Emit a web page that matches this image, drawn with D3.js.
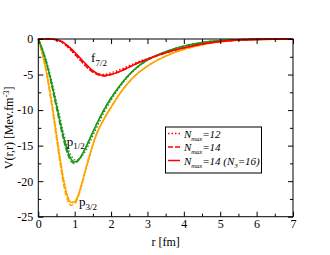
<html>
<head>
  <script src="https://d3js.org/d3.v7.min.js"></script>
  <style>
    body { margin: 0; background: #fff; }
    text { font-family: "Liberation Serif", "Times New Roman", serif; }
  </style>
</head>
<body>
  <svg id="chart" width="330" height="255"></svg>
  <script>
    // radius grid [fm]
    const rGrid = [0, 0.1, 0.2, 0.3, 0.4, 0.5, 0.6, 0.7, 0.8, 0.9, 1.0, 1.1, 1.2, 1.3, 1.4, 1.5, 1.6, 1.8, 2.0, 2.25, 2.5, 2.75, 3.0, 3.5, 4.0, 4.5, 5.0, 5.5, 6.0, 6.5, 7.0];

    // f7/2
    const f72_n12 = [0, 0, 0, 0, -0.03, -0.12, -0.32, -0.65, -1.1, -1.6, -2.15, -2.7, -3.25, -3.8, -4.25, -4.6, -4.85, -5.0, -4.75, -4.3, -3.75, -3.2, -2.75, -1.9, -1.2, -0.7, -0.35, -0.15, -0.06, -0.02, 0];
    const f72_n14 = [0, 0, 0, 0, -0.03, -0.12, -0.3, -0.62, -1.05, -1.55, -2.1, -2.65, -3.2, -3.75, -4.25, -4.65, -4.95, -5.2, -5.0, -4.55, -3.95, -3.35, -2.85, -1.95, -1.25, -0.7, -0.35, -0.15, -0.06, -0.02, 0];
    const f72_n14n3 = [0, 0, 0, 0, -0.02, -0.1, -0.25, -0.52, -0.9, -1.35, -1.85, -2.4, -2.95, -3.5, -4.0, -4.45, -4.8, -5.15, -5.0, -4.55, -3.95, -3.35, -2.85, -1.95, -1.25, -0.7, -0.35, -0.15, -0.06, -0.02, 0];

    // p1/2
    const p12_n12 = [0, -1.2, -2.7, -4.5, -6.6, -8.9, -11.2, -13.4, -15.2, -16.4, -17.0, -17.0, -16.5, -15.7, -14.7, -13.6, -12.5, -10.4, -8.6, -6.7, -5.1, -3.9, -3.0, -1.8, -1.0, -0.5, -0.22, -0.09, -0.03, -0.01, 0];
    const p12_n14 = [0, -1.4, -3.0, -5.0, -7.3, -9.7, -12.1, -14.3, -16.1, -17.2, -17.5, -17.1, -16.3, -15.3, -14.2, -13.1, -12.0, -10.0, -8.3, -6.5, -5.0, -3.85, -2.95, -1.8, -1.0, -0.5, -0.22, -0.09, -0.03, -0.01, 0];
    const p12_n14n3 = [0, -1.3, -2.9, -4.8, -7.0, -9.3, -11.7, -13.9, -15.7, -16.9, -17.3, -17.0, -16.3, -15.3, -14.2, -13.1, -12.0, -10.0, -8.3, -6.5, -5.0, -3.8, -2.95, -1.8, -1.0, -0.5, -0.22, -0.09, -0.03, -0.01, 0];

    // p3/2
    const p32_n12 = [0, -1.7, -3.8, -6.5, -9.7, -13.1, -16.6, -19.7, -21.9, -23.0, -23.0, -22.1, -20.5, -18.6, -16.8, -15.0, -13.5, -11.3, -9.6, -7.6, -6.0, -4.75, -3.8, -2.4, -1.45, -0.8, -0.38, -0.16, -0.06, -0.02, 0];
    const p32_n14 = [0, -1.9, -4.2, -7.1, -10.4, -14.0, -17.5, -20.6, -22.6, -23.4, -23.2, -22.1, -20.3, -18.4, -16.6, -14.9, -13.4, -11.3, -9.6, -7.6, -6.0, -4.75, -3.8, -2.4, -1.45, -0.8, -0.38, -0.16, -0.06, -0.02, 0];
    const p32_n14n3 = [0, -1.8, -4.0, -6.8, -10.0, -13.5, -17.0, -20.0, -22.1, -23.0, -22.9, -21.9, -20.2, -18.3, -16.5, -14.8, -13.4, -11.3, -9.6, -7.6, -6.0, -4.75, -3.8, -2.4, -1.45, -0.8, -0.38, -0.16, -0.06, -0.02, 0];

    const xTicks = [0, 1, 2, 3, 4, 5, 6, 7];
    const yTicks = [-25, -20, -15, -10, -5, 0];

    const svg = d3.select("#chart");
    const x = d3.scaleLinear().domain([0, 7]).range([38.3, 293]);
    const y = d3.scaleLinear().domain([-25, 0]).range([216.7, 39]);

    const dotted = "1.5,2";
    const dashed = "5,2";

    const series = [
      { v: p32_n12, c: "#ffa500", d: dotted },
      { v: p32_n14, c: "#ffa500", d: dashed },
      { v: p32_n14n3, c: "#ffa500", d: null },
      { v: p12_n12, c: "#1e961e", d: dotted },
      { v: p12_n14, c: "#1e961e", d: dashed },
      { v: p12_n14n3, c: "#1e961e", d: null },
      { v: f72_n12, c: "#ff0000", d: dotted },
      { v: f72_n14, c: "#ff0000", d: dashed },
      { v: f72_n14n3, c: "#ff0000", d: null }
    ];

    const line = d3.line()
      .x((d, i) => x(rGrid[i]))
      .y(d => y(d))
      .curve(d3.curveMonotoneX);

    svg.append("g").selectAll("path").data(series).join("path")
      .attr("d", d => line(d.v))
      .attr("fill", "none")
      .attr("stroke", d => d.c)
      .attr("stroke-width", 1.5)
      .attr("stroke-dasharray", d => d.d);

    // frame
    svg.append("rect")
      .attr("x", x(0)).attr("y", y(0))
      .attr("width", x(7) - x(0)).attr("height", y(-25) - y(0))
      .attr("fill", "none").attr("stroke", "#000").attr("stroke-width", 1);

    const minorX = d3.range(0.5, 7, 1);
    const minorY = d3.range(-22.5, 0, 5);

    // bottom
    svg.append("g").attr("transform", `translate(0,${y(-25)})`)
      .call(d3.axisBottom(x).tickValues(xTicks).tickSize(-5).tickPadding(3).tickFormat(d3.format("d")));
    svg.append("g").attr("transform", `translate(0,${y(-25)})`)
      .call(d3.axisBottom(x).tickValues(minorX).tickSize(-3).tickFormat(""));
    // top
    svg.append("g").attr("transform", `translate(0,${y(0)})`)
      .call(d3.axisTop(x).tickValues(xTicks).tickSize(-5).tickFormat(""));
    svg.append("g").attr("transform", `translate(0,${y(0)})`)
      .call(d3.axisTop(x).tickValues(minorX).tickSize(-3).tickFormat(""));
    // left
    const gL = svg.append("g").attr("transform", `translate(${x(0)},0)`)
      .call(d3.axisLeft(y).tickValues(yTicks).tickSize(-5).tickPadding(5).tickFormat(d3.format("d")));
    svg.append("g").attr("transform", `translate(${x(0)},0)`)
      .call(d3.axisLeft(y).tickValues(minorY).tickSize(-3).tickFormat(""));
    // right
    svg.append("g").attr("transform", `translate(${x(7)},0)`)
      .call(d3.axisRight(y).tickValues(yTicks).tickSize(-5).tickFormat(""));
    svg.append("g").attr("transform", `translate(${x(7)},0)`)
      .call(d3.axisRight(y).tickValues(minorY).tickSize(-3).tickFormat(""));

    svg.selectAll(".domain").remove();
    svg.selectAll(".tick line").attr("stroke", "#000");
    svg.selectAll(".tick text")
      .attr("font-family", "Liberation Serif, serif")
      .attr("font-size", 12)
      .attr("fill", "#000");
    gL.selectAll(".tick text").text(d => d === 0 ? "0" : "-" + Math.abs(d));

    // axis titles
    svg.append("text")
      .attr("x", (x(0) + x(7)) / 2).attr("y", 246)
      .attr("text-anchor", "middle").attr("font-size", 12)
      .text("r [fm]");

    const yl = svg.append("text")
      .attr("transform", `translate(13,${(y(0) + y(-25)) / 2}) rotate(-90)`)
      .attr("text-anchor", "middle").attr("font-size", 12);
    yl.append("tspan").text("V(r,r) [Mev.fm");
    yl.append("tspan").attr("font-size", 8.5).attr("dy", -4.5).text("-3");
    yl.append("tspan").attr("dy", 4.5).text("]");

    // state labels
    const stateLabels = [
      { main: "f", sub: "7/2", r: 1.45, v: -3.3 },
      { main: "p", sub: "1/2", r: 0.78, v: -15.0 },
      { main: "p", sub: "3/2", r: 1.12, v: -23.5 }
    ];
    stateLabels.forEach(s => {
      const t = svg.append("text")
        .attr("x", x(s.r)).attr("y", y(s.v))
        .attr("font-size", 13);
      t.append("tspan").text(s.main);
      t.append("tspan").attr("font-size", 9).attr("dy", 3.5).text(s.sub);
    });

    // legend
    const legend = [
      { label: "=12", extra: "", d: dotted },
      { label: "=14", extra: "", d: dashed },
      { label: "=14 (N", extra: "=16)", d: null }
    ];
    svg.append("rect")
      .attr("x", 165.5).attr("y", 127).attr("width", 96).attr("height", 46)
      .attr("fill", "#fff").attr("stroke", "#000").attr("stroke-width", 1);
    legend.forEach((l, i) => {
      const yy = 133.5 + i * 13.5;
      svg.append("line")
        .attr("x1", 168).attr("x2", 180).attr("y1", yy).attr("y2", yy)
        .attr("stroke", "#ff0000").attr("stroke-width", 1.5)
        .attr("stroke-dasharray", l.d);
      const t = svg.append("text")
        .attr("x", 184).attr("y", yy + 4)
        .attr("font-size", 11).attr("font-style", "italic");
      t.append("tspan").text("N");
      t.append("tspan").attr("font-size", 6.5).attr("dy", 3).text("max");
      t.append("tspan").attr("dy", -3).text(l.label);
      if (l.extra) {
        t.append("tspan").attr("font-size", 6.5).attr("dy", 3).text("3");
        t.append("tspan").attr("dy", -3).text(l.extra);
      }
    });
  </script>
</body>
</html>
